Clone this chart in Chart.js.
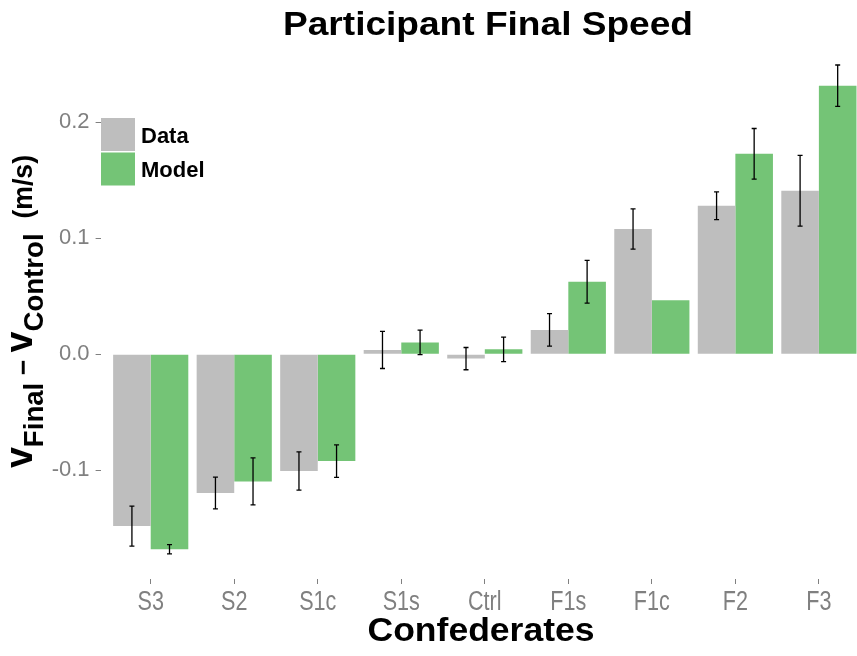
<!DOCTYPE html>
<html>
<head>
<meta charset="utf-8">
<script src="https://cdn.jsdelivr.net/npm/chart.js@4.4.0/dist/chart.umd.min.js"></script>
<style>
  html, body { margin: 0; padding: 0; background: #fff; overflow: hidden; }
  #wrap { position: relative; width: 870px; height: 656px; }
</style>
</head>
<body>
<div id="wrap"><canvas id="speedChart"></canvas></div>
<script>
// chart data
const categories = ['S3', 'S2', 'S1c', 'S1s', 'Ctrl', 'F1s', 'F1c', 'F2', 'F3'];
const dataValues = [-0.148, -0.1195, -0.1005, 0.0038, -0.0037, 0.021, 0.108, 0.128, 0.141];
const dataErrors = [0.0172, 0.0137, 0.0165, 0.016, 0.0096, 0.014, 0.0174, 0.012, 0.0305];
const modelValues = [-0.168, -0.1095, -0.092, 0.0103, 0.0043, 0.0625, 0.0466, 0.1728, 0.2315];
const modelErrors = [0.004, 0.0203, 0.014, 0.0106, 0.0106, 0.0184, 0, 0.0218, 0.0178];
const yTicks = [-0.1, 0.0, 0.1, 0.2];
const seriesNames = ['Data', 'Model'];
const chartTitle = 'Participant Final Speed';
const xTitle = 'Confederates';

const GRAY = '#bebebe';
const GREEN = '#74c476';
const TICK_GRAY = '#808080';

function points(vals) {
    return vals.map(function(v, i) { return { x: i + 1, y: v }; });
}

// error bars drawn with the chart's own scales
const errorBars = {
    id: 'errorBars',
    afterDatasetsDraw: function(chart) {
        const ctx = chart.ctx;
        const y = chart.scales.y;
        ctx.save();
        ctx.strokeStyle = '#000';
        ctx.lineWidth = 1.3;
        chart.data.datasets.forEach(function(ds, di) {
            const meta = chart.getDatasetMeta(di);
            meta.data.forEach(function(bar, i) {
                const err = ds.errors[i];
                if (!err) return;
                const v = ds.data[i].y;
                const top = y.getPixelForValue(v + err);
                const bot = y.getPixelForValue(v - err);
                ctx.beginPath();
                ctx.moveTo(bar.x, top); ctx.lineTo(bar.x, bot);
                ctx.moveTo(bar.x - 2.5, top); ctx.lineTo(bar.x + 2.5, top);
                ctx.moveTo(bar.x - 2.5, bot); ctx.lineTo(bar.x + 2.5, bot);
                ctx.stroke();
            });
        });
        ctx.restore();
    }
};

// title, axis titles, narrow x tick labels and legend
const labels = {
    id: 'labels',
    afterDraw: function(chart) {
        const ctx = chart.ctx;
        ctx.save();
        ctx.fillStyle = '#000';

        // title
        ctx.font = 'bold 34px "Liberation Sans", Arial, sans-serif';
        let w = ctx.measureText(chartTitle).width;
        ctx.save();
        ctx.translate(488, 35);
        ctx.scale(410 / w, 1);
        ctx.textAlign = 'center';
        ctx.fillText(chartTitle, 0, 0);
        ctx.restore();

        // x tick labels (condensed, as in the original)
        const xs = chart.scales.x;
        ctx.font = '27px "Liberation Sans", Arial, sans-serif';
        ctx.fillStyle = TICK_GRAY;
        ctx.textAlign = 'center';
        xs.ticks.forEach(function(t) {
            ctx.save();
            ctx.translate(xs.getPixelForValue(t.value), 610);
            ctx.scale(0.8, 1);
            ctx.fillText(categories[Math.round(t.value) - 1], 0, 0);
            ctx.restore();
        });
        ctx.fillStyle = '#000';

        // x title
        ctx.font = 'bold 34px "Liberation Sans", Arial, sans-serif';
        w = ctx.measureText(xTitle).width;
        ctx.save();
        ctx.translate(481, 641);
        ctx.scale(227 / w, 1);
        ctx.fillText(xTitle, 0, 0);
        ctx.restore();
        ctx.textAlign = 'left';

        // y title with subscripts
        const parts = [
            { t: 'v', size: 38, dy: 0 },
            { t: 'Final', size: 28, dy: 11 },
            { t: ' \u2212 ', size: 27, dy: 0 },
            { t: 'v', size: 38, dy: 0 },
            { t: 'Control', size: 28, dy: 11 },
            { t: '  (m/s)', size: 27, dy: 0 }
        ];
        let total = 0;
        parts.forEach(function(p) {
            ctx.font = 'bold ' + p.size + 'px "Liberation Sans", Arial, sans-serif';
            p.w = ctx.measureText(p.t).width;
            total += p.w;
        });
        ctx.save();
        ctx.translate(32, 468);
        ctx.rotate(-Math.PI / 2);
        ctx.scale(313 / total, 1);
        let x = 0;
        parts.forEach(function(p) {
            ctx.font = 'bold ' + p.size + 'px "Liberation Sans", Arial, sans-serif';
            ctx.fillText(p.t, x, p.dy);
            x += p.w;
        });
        ctx.restore();

        // legend
        ctx.font = 'bold 22px "Liberation Sans", Arial, sans-serif';
        chart.data.datasets.forEach(function(ds, i) {
            const top = 118 + i * 34.5;
            ctx.fillStyle = ds.backgroundColor;
            ctx.fillRect(101, top, 34, 33);
            ctx.fillStyle = '#000';
            ctx.fillText(ds.label, 141, top + 24.5);
        });
        ctx.restore();
    }
};

const ctx = document.getElementById('speedChart').getContext('2d');
new Chart(ctx, {
    type: 'bar',
    data: {
        datasets: [{
            label: seriesNames[0],
            data: points(dataValues),
            errors: dataErrors,
            backgroundColor: GRAY
        }, {
            label: seriesNames[1],
            data: points(modelValues),
            errors: modelErrors,
            backgroundColor: GREEN
        }]
    },
    options: {
        responsive: true,
        maintainAspectRatio: false,
        animation: false,
        categoryPercentage: 0.9,
        barPercentage: 1.0,
        layout: { padding: { top: 41, right: 1, bottom: 0, left: 0 } },
        plugins: {
            legend: { display: false },
            title: { display: false },
            tooltip: { enabled: false }
        },
        scales: {
            x: {
                type: 'linear',
                min: 0.4,
                max: 9.6,
                offset: false,
                afterFit: function(scale) { scale.height = 77; },
                afterBuildTicks: function(scale) {
                    scale.ticks = categories.map(function(c, i) { return { value: i + 1 }; });
                },
                grid: { drawOnChartArea: false, offset: false, tickLength: 5, color: TICK_GRAY },
                border: { display: false },
                ticks: { display: false }
            },
            y: {
                min: -0.1936,
                max: 0.270,
                afterFit: function(scale) { scale.width = 100.6; },
                afterBuildTicks: function(scale) {
                    scale.ticks = yTicks.map(function(v) { return { value: v }; });
                },
                grid: { drawOnChartArea: false, tickLength: 5, color: TICK_GRAY },
                border: { display: false },
                ticks: {
                    color: TICK_GRAY,
                    padding: 6,
                    font: { family: '"Liberation Sans", Arial, sans-serif', size: 22 },
                    callback: function(value) { return value.toFixed(1); }
                }
            }
        }
    },
    plugins: [errorBars, labels]
});
</script>
</body>
</html>
